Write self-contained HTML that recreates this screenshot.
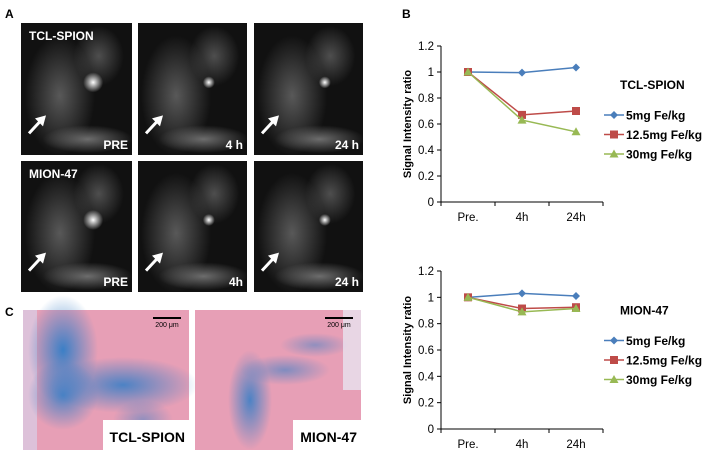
<!DOCTYPE html>
<html><head><meta charset="utf-8"><style>
body{margin:0;background:#fff;}
svg{display:block;font-family:"Liberation Sans",Arial,sans-serif;}
</style></head><body>
<svg id="fig" width="713" height="459" viewBox="0 0 713 459">
<defs>
<radialGradient id="blob" cx="50%" cy="50%" r="50%"><stop offset="0" stop-color="#fff"/><stop offset="1" stop-color="#fff" stop-opacity="0"/></radialGradient>
<radialGradient id="gray" cx="50%" cy="50%" r="50%"><stop offset="0" stop-color="#777"/><stop offset="1" stop-color="#777" stop-opacity="0"/></radialGradient>
<radialGradient id="blue" cx="50%" cy="50%" r="50%"><stop offset="0" stop-color="#3b7fc6"/><stop offset="1" stop-color="#3b7fc6" stop-opacity="0"/></radialGradient>
</defs>
<text x="5" y="18" font-size="12" font-weight="bold">A</text>
<text x="402" y="18" font-size="12" font-weight="bold">B</text>
<text x="5" y="316" font-size="12" font-weight="bold">C</text>
<g id="mri"></g>
<g id="histo"></g>
<g id="chart1"></g>
<g id="chart2"></g>
</svg>
<script>
const NS='http://www.w3.org/2000/svg';
function mk(p,t,a,txt){const e=document.createElementNS(NS,t);for(const k in a)e.setAttribute(k,a[k]);if(txt!==undefined)e.textContent=txt;p.appendChild(e);return e;}
const mri=document.getElementById('mri');
const cols=[[21,111],[138,109],[254,109]],rows=[[23,132],[161,131]];
const tl=[['PRE','4 h','24 h'],['PRE','4h','24 h']];
rows.forEach((r,ri)=>cols.forEach((c,ci)=>{
 const g=mk(mri,'g',{});
 
 
 mk(g,'rect',{x:c[0],y:r[0],width:c[1],height:r[1],fill:'#111'});
 mk(g,'ellipse',{cx:c[0]+c[1]*0.35,cy:r[0]+r[1]*0.55,rx:35,ry:60,fill:'url(#gray)',opacity:0.7});
 mk(g,'ellipse',{cx:c[0]+c[1]*0.7,cy:r[0]+r[1]*0.25,rx:25,ry:30,fill:'url(#gray)',opacity:0.6});
 mk(g,'ellipse',{cx:c[0]+c[1]*0.6,cy:r[0]+r[1]*0.88,rx:45,ry:14,fill:'url(#gray)',opacity:0.9});
 mk(g,'ellipse',{cx:c[0]+c[1]*0.65,cy:r[0]+r[1]*0.45,rx:ci==0?10:6,ry:ci==0?10:6,fill:'url(#blob)'});
 const ax=c[0]+8,ay=r[0]+r[1]*0.73;
 mk(g,'line',{x1:ax,y1:ay+14,x2:ax+13,y2:ay,stroke:'#fff','stroke-width':3});
 mk(g,'polygon',{points:`${ax+17},${ay-4} ${ax+6},${ay-1} ${ax+14},${ay+7}`,fill:'#fff'});
 mk(g,'text',{x:c[0]+c[1]-4,y:r[0]+r[1]-6,'text-anchor':'end','font-size':12,'font-weight':'bold',fill:'#fff'},tl[ri][ci]);
 if(ci==0)mk(g,'text',{x:c[0]+8,y:r[0]+17,'font-size':12,'font-weight':'bold',fill:'#fff'},ri==0?'TCL-SPION':'MION-47');
}));
const hi=document.getElementById('histo');
[[23,'TCL-SPION',86],[195,'MION-47',68]].forEach((h,i)=>{
 const g=mk(hi,'g',{});
 
 
 mk(g,'rect',{x:h[0],y:310,width:166,height:140,fill:'#e79fb6'});
 if(i==0){
  mk(g,'rect',{x:h[0],y:310,width:14,height:140,fill:'#d8d0e8',opacity:0.7});
  mk(g,'ellipse',{cx:h[0]+40,cy:350,rx:35,ry:55,fill:'url(#blue)'});
  mk(g,'ellipse',{cx:h[0]+100,cy:385,rx:75,ry:28,fill:'url(#blue)',opacity:0.9});
  mk(g,'ellipse',{cx:h[0]+40,cy:395,rx:35,ry:35,fill:'url(#blue)',opacity:0.9});
  mk(g,'ellipse',{cx:h[0]+120,cy:420,rx:30,ry:20,fill:'url(#blue)',opacity:0.5});
 }else{
  mk(g,'ellipse',{cx:h[0]+55,cy:400,rx:22,ry:50,fill:'url(#blue)',opacity:0.9});
  mk(g,'ellipse',{cx:h[0]+90,cy:370,rx:45,ry:15,fill:'url(#blue)',opacity:0.6});
  mk(g,'ellipse',{cx:h[0]+120,cy:345,rx:35,ry:12,fill:'url(#blue)',opacity:0.5});
  mk(g,'rect',{x:h[0]+148,y:310,width:18,height:80,fill:'#e8e4f0',opacity:0.8});
 }
 mk(g,'line',{x1:h[0]+130,y1:318,x2:h[0]+158,y2:318,stroke:'#000','stroke-width':2});
 mk(g,'text',{x:h[0]+144,y:327,'text-anchor':'middle','font-size':7},'200 μm');
 mk(g,'rect',{x:h[0]+166-h[2],y:420,width:h[2],height:30,fill:'#fff'});
 mk(g,'text',{x:h[0]+162,y:442,'text-anchor':'end','font-size':14,'font-weight':'bold'},h[1]);
});
const categories=['Pre.','4h','24h'];
const yTicks=[0,0.2,0.4,0.6,0.8,1,1.2];
const tclLow=[1.0,0.995,1.035];
const tclMid=[1.0,0.67,0.70];
const tclHigh=[1.0,0.63,0.54];
const mionLow=[1.0,1.03,1.01];
const mionMid=[1.0,0.915,0.925];
const mionHigh=[1.0,0.89,0.915];
const seriesNames=['5mg Fe/kg','12.5mg Fe/kg','30mg Fe/kg'];
const colors=['#4a7ebb','#be4b48','#98b954'];
const markers=['diamond','square','triangle'];
function chart(id,top,bot,title,series){
 const g=document.getElementById(id);
 const x0=441,x1=603;
 const y=v=>bot-(v/1.2)*(bot-top);
 const step=(x1-x0)/categories.length;
 const xc=i=>x0+step*(i+0.5);
 mk(g,'line',{x1:x0,y1:top,x2:x0,y2:bot,stroke:'#000'});
 mk(g,'line',{x1:x0,y1:bot,x2:x1,y2:bot,stroke:'#000'});
 yTicks.forEach(t=>{
  const ty=y(t);
  mk(g,'line',{x1:x0-4,y1:ty,x2:x0,y2:ty,stroke:'#000'});
  const tx=mk(g,'text',{x:x0-7,y:ty+4,'text-anchor':'end','font-size':11.5},String(t));
  
  
 });
 for(let i=0;i<=categories.length;i++)mk(g,'line',{x1:x0+step*i,y1:bot,x2:x0+step*i,y2:bot+4,stroke:'#000'});
 categories.forEach((c,i)=>{
  const t=mk(g,'text',{x:xc(i),y:bot+19,'text-anchor':'middle','font-size':11.5},c);
  
  
 });
 const yt=mk(g,'text',{transform:`translate(${x0-30},${(top+bot)/2}) rotate(-90)`,'text-anchor':'middle','font-size':11,'font-weight':'bold'},'Signal Intensity ratio');
 
 
 series.forEach((s,si)=>{
  const pl=mk(g,'polyline',{points:s.map((v,i)=>xc(i)+','+y(v)).join(' '),fill:'none',stroke:colors[si],'stroke-width':1.5});
  
  
  s.forEach((v,i)=>drawMarker(g,markers[si],xc(i),y(v),colors[si]));
 });
 const lt=mk(g,'text',{x:620,y:y(0.9)+4,'font-size':12,'font-weight':'bold'},title);
 
 
 seriesNames.forEach((n,i)=>{
  const ly=y(0.9)+30+i*19.5;
  mk(g,'line',{x1:604,y1:ly,x2:624,y2:ly,stroke:colors[i],'stroke-width':1.5});
  drawMarker(g,markers[i],614,ly,colors[i]);
  const t=mk(g,'text',{x:626,y:ly+4.5,'font-size':12,'font-weight':'bold'},n);
  
  
 });
}
function drawMarker(g,m,x,y,c){
 let e;
 if(m=='diamond')e=mk(g,'polygon',{points:`${x},${y-4} ${x+4},${y} ${x},${y+4} ${x-4},${y}`,fill:c});
 else if(m=='square')e=mk(g,'rect',{x:x-4,y:y-4,width:8,height:8,fill:c});
 else e=mk(g,'polygon',{points:`${x},${y-4.5} ${x+4.5},${y+3.5} ${x-4.5},${y+3.5}`,fill:c});
 
 
}
chart('chart1',46,202,'TCL-SPION',[tclLow,tclMid,tclHigh]);
chart('chart2',271,429,'MION-47',[mionLow,mionMid,mionHigh]);
</script>
</body></html>
